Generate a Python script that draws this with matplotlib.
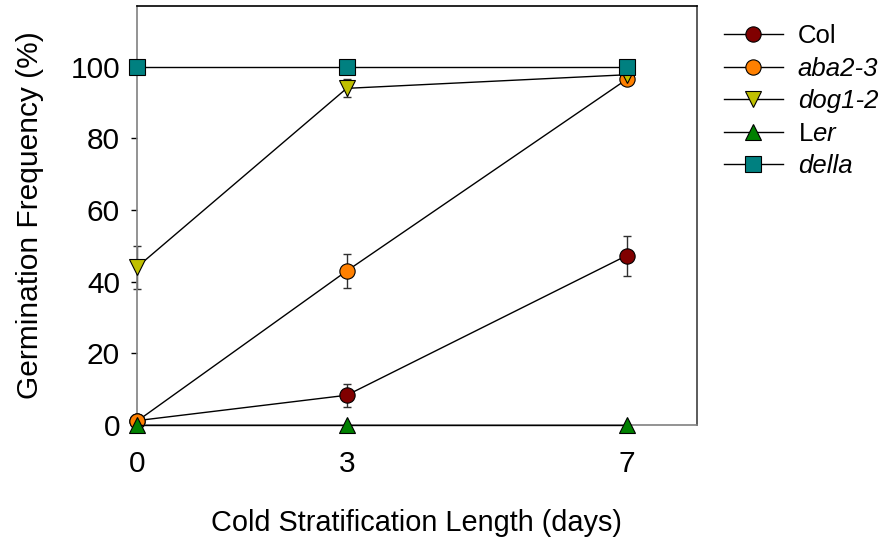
import matplotlib
matplotlib.use("Agg")
import matplotlib.pyplot as plt

plt.rcParams['font.family'] = ['Liberation Sans', 'DejaVu Sans']
plt.rcParams['mathtext.fontset'] = 'custom'
plt.rcParams['mathtext.rm'] = 'Liberation Sans'
plt.rcParams['mathtext.it'] = 'Liberation Sans:italic'

days = [0, 3, 7]
x_ticklabels = ["0", "3", "7"]
y_ticks = [0, 20, 40, 60, 80, 100]

col_vals = [1.2, 8.3, 47.3]
col_err = [0.0, 3.2, 5.6]
aba_vals = [1.0, 43.0, 96.5]
aba_err = [0.0, 4.7, 0.0]
dog_vals = [44.0, 94.0, 97.8]
dog_err = [6.0, 2.5, 0.0]
ler_vals = [0.0, 0.0, 0.0]
ler_err = [0.0, 0.0, 0.0]
della_vals = [100.0, 100.0, 100.0]
della_err = [0.0, 0.0, 0.0]

labels = ["Col", "aba2-3", "dog1-2", r"L$\it{er}$", "della"]
italic_labels = [False, True, True, False, True]
series = [col_vals, aba_vals, dog_vals, ler_vals, della_vals]
errors = [col_err, aba_err, dog_err, ler_err, della_err]
colors = ["#800000", "#FF8000", "#BFBF00", "#008000", "#008080"]
markers = ["o", "o", "v", "^", "s"]

fig = plt.figure(figsize=(8.86, 5.44), dpi=100)
ax = fig.add_axes([0.1543, 0.2188, 0.6320, 0.7702])

handles = []
for i, (vals, err, c, m, lab) in enumerate(zip(series, errors, colors, markers, labels)):
    ax.errorbar(days, vals, yerr=err, fmt='none', ecolor='#303030', elinewidth=1,
                capsize=3, capthick=1, zorder=2 + i * 0.1, clip_on=False)
    h, = ax.plot(days, vals, color='black', lw=1, marker=m, markersize=11,
                 markerfacecolor=c, markeredgecolor='black', markeredgewidth=0.8,
                 label=lab, zorder=3 + i * 0.1, clip_on=False)
    handles.append(h)

ax.set_xlim(0, 8)
ax.set_ylim(0, 117)
ax.set_xticks(days)
ax.set_xticklabels(x_ticklabels)
ax.set_yticks(y_ticks)
ax.tick_params(axis='both', labelsize=21.5, direction='out', length=4, width=1, color='black')
ax.tick_params(axis='x', length=0, pad=18)
ax.tick_params(axis='y', pad=8)

ax.spines['left'].set_color('#808080')
ax.spines['bottom'].set_color('#808080')
ax.spines['right'].set_color('#404040')
ax.spines['top'].set_color('black')
for s in ax.spines.values():
    s.set_linewidth(1.2)

ax.set_xlabel("Cold Stratification Length (days)", fontsize=20.8, labelpad=22)
ax.set_ylabel("Germination Frequency (%)", fontsize=21.5, labelpad=19)

leg = fig.legend(handles=handles, labels=labels, loc='upper left',
                 bbox_to_anchor=(0.817, 0.955), frameon=False, fontsize=18.5,
                 handlelength=2.3, handletextpad=0.58, labelspacing=0.33,
                 borderpad=0, borderaxespad=0)
for t, it in zip(leg.get_texts(), italic_labels):
    if it:
        t.set_fontstyle('italic')

fig.savefig("out.png", dpi=100)
